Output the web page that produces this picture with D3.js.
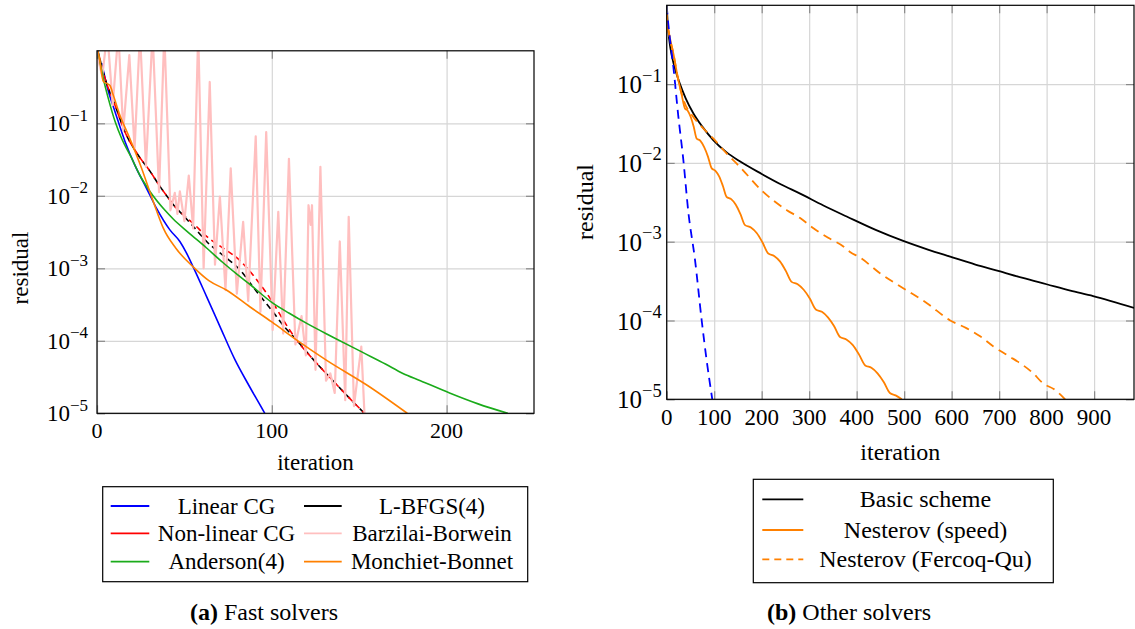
<!DOCTYPE html>
<html lang="en">
<head>
<meta charset="UTF-8">
<script src="https://cdn.jsdelivr.net/npm/d3@7"></script>
<title>Solver residuals</title>
<style>
  body { margin: 0; background: #fff; }
  .grid line { stroke: #d6d6d6; stroke-width: 1.2; }
  .grid path, .ticks path { display: none; }
  .ticks line { stroke: #8a8a8a; stroke-width: 1.2; }
  .frame { fill: none; stroke: #000; stroke-width: 1.2; }
</style>
</head>
<body>
<svg id="chart" width="1135" height="629" font-family="Liberation Serif, DejaVu Serif, serif"></svg>
<script>
// ---- data: [iteration, log10(residual)] ----
const yTickExps = [-5, -4, -3, -2, -1];
const leftXTicks = [0, 100, 200];
const rightXTicks = [0, 100, 200, 300, 400, 500, 600, 700, 800, 900];

const linearCG = [[2.7,-0.17],[6.5,-0.56],[10.3,-0.84],[16,-1.25],[21.7,-1.58],[28.4,-1.9],[34,-2.17],[41.7,-2.47],[47.4,-2.63],[51,-2.78],[55,-2.98],[62.7,-3.39],[70.3,-3.8],[78.9,-4.26],[87,-4.62],[96,-5.0]];
const lbfgs = [[0.5,0],[4.6,-0.38],[10.3,-0.75],[16,-1.12],[23.6,-1.44],[30.3,-1.66],[36,-1.87],[40.8,-2.03],[43.6,-2.12],[49.3,-2.27],[55,-2.42],[62.7,-2.63],[72,-2.82],[81.7,-3.02],[90,-3.28],[100,-3.58],[107,-3.8],[114.2,-3.99],[123.8,-4.26],[135,-4.55],[144,-4.78],[153,-5.0]];
const nonlinearCG = [[0.5,0],[4.6,-0.38],[10.3,-0.75],[16,-1.12],[23.6,-1.44],[30.3,-1.66],[36,-1.87],[40.8,-2.03],[43.6,-2.12],[49.3,-2.26],[55,-2.38],[62.7,-2.56],[72,-2.72],[81.7,-2.89],[87.4,-3.04],[93,-3.21],[100,-3.45],[106.5,-3.71],[114.2,-3.99],[123.8,-4.26],[135,-4.55],[144,-4.78],[153,-5.0]];
const barzilai = [[0,-0.05],[3,-0.35],[5.9,0.25],[9,-0.75],[12.2,0.25],[15,-1.1],[18.5,-0.06],[21.5,-1.35],[24.6,0.25],[28,-1.6],[31.8,0.25],[35.5,-1.95],[38.5,0.25],[42,-2.2],[44.5,-1.96],[46,-2.25],[47.4,-1.94],[50,-2.35],[52.5,-1.72],[55,-2.45],[57.9,0.25],[61,-3.0],[64.5,-0.43],[67.5,-2.95],[70.3,-2.01],[73.5,-3.3],[76.5,-1.62],[80,-3.35],[83.6,-2.36],[86.5,-3.45],[90.8,-1.18],[93.5,-3.6],[96.8,-1.12],[100.5,-3.85],[103.7,-2.22],[106.5,-3.9],[109.8,-1.49],[113.5,-4.05],[117,-3.66],[119.5,-4.2],[121,-2.13],[122.3,-2.4],[123,-2.13],[125,-4.4],[127.8,-1.6],[131,-4.55],[133.5,-4.45],[136,-4.72],[138.9,-2.63],[142,-4.82],[144,-2.29],[147,-4.9],[151.2,-4.08],[153,-5.0]];
const anderson = [[1,-0.06],[3.6,-0.38],[6.5,-0.66],[10.4,-0.98],[14.1,-1.21],[19.8,-1.48],[24.6,-1.72],[30.3,-1.94],[38.9,-2.2],[43.6,-2.32],[52,-2.5],[62.7,-2.72],[72,-2.92],[80,-3.08],[87.4,-3.22],[100,-3.47],[110,-3.62],[120,-3.76],[135,-3.95],[152,-4.16],[165,-4.32],[175,-4.45],[185,-4.55],[201.7,-4.72],[218,-4.87],[235,-5.0]];
const monchiet = [[0.5,0],[1.5,-0.12],[3.6,-0.42],[5.5,-0.45],[7.4,-0.48],[9.3,-0.61],[13.1,-0.89],[17.9,-1.16],[25.5,-1.62],[30.3,-1.95],[34,-2.2],[38,-2.45],[45,-2.72],[55,-2.98],[64,-3.17],[74,-3.3],[87.4,-3.53],[100,-3.74],[114.3,-3.99],[131.4,-4.27],[155,-4.62],[177.5,-5.0]];

const basicScheme = [[0,0],[3,-0.3],[8,-0.55],[15,-0.75],[28,-1.0],[40,-1.18],[56,-1.37],[75,-1.54],[98,-1.71],[125,-1.86],[154,-1.98],[200,-2.14],[240,-2.27],[281,-2.39],[330,-2.54],[379,-2.68],[440,-2.85],[498,-2.99],[550,-3.1],[597,-3.19],[650,-3.29],[698,-3.37],[750,-3.46],[800,-3.54],[850,-3.62],[898,-3.69],[984,-3.84]];
const nesterovSpeed = [[0,-0.1],[1,-0.19],[7,-0.42],[14,-0.61],[24.5,-0.95],[31,-1.12],[38.5,-1.31],[44.6,-1.34],[50.8,-1.42],[56.9,-1.54],[63,-1.69],[71,-1.72],[78.9,-1.8],[86.9,-1.92],[94.8,-2.07],[102.6,-2.1],[110.4,-2.17],[118.2,-2.29],[126,-2.43],[135.8,-2.46],[145.5,-2.53],[155.3,-2.65],[165,-2.79],[177.3,-2.82],[189.5,-2.89],[201.8,-3.01],[214,-3.15],[226.3,-3.18],[238.5,-3.25],[250.8,-3.37],[263,-3.51],[275.8,-3.54],[288.5,-3.61],[301.3,-3.72],[314,-3.86],[326.8,-3.89],[339.5,-3.96],[352.3,-4.07],[365,-4.21],[378.3,-4.24],[391.5,-4.31],[404.8,-4.43],[418,-4.57],[431,-4.6],[444,-4.67],[457,-4.78],[470,-4.92],[482,-4.95],[495,-5.0]];
const nesterovFQ = [[0,-0.1],[1,-0.19],[7,-0.42],[14,-0.61],[24.5,-0.95],[38.5,-1.25],[52.6,-1.39],[75,-1.55],[98,-1.69],[126,-1.88],[154,-2.05],[200,-2.35],[253,-2.6],[281,-2.7],[309,-2.83],[340,-2.95],[372,-3.06],[386,-3.13],[407,-3.2],[449,-3.4],[498,-3.59],[548,-3.78],[597,-4.0],[632,-4.1],[660,-4.2],[688,-4.33],[720,-4.45],[751,-4.57],[770,-4.66],[793,-4.8],[815,-4.87],[839,-5.0]];
const linearCGRef = [[0,0],[2,-0.15],[5.6,-0.36],[14,-0.78],[24.5,-1.41],[35,-1.96],[45.5,-2.62],[59.6,-3.23],[73.7,-4.0],[84,-4.5],[96,-5.0]];

const leftLegend = [
  {label: "Linear CG", color: "#0000ff"}, {label: "L-BFGS(4)", color: "#000000"},
  {label: "Non-linear CG", color: "#ff0000"}, {label: "Barzilai-Borwein", color: "#ffbfbf"},
  {label: "Anderson(4)", color: "#1aab1a"}, {label: "Monchiet-Bonnet", color: "#ff8000"}
];
const rightLegend = [
  {label: "Basic scheme", color: "#000000"},
  {label: "Nesterov (speed)", color: "#ff8000"},
  {label: "Nesterov (Fercoq-Qu)", color: "#ff8000", dash: "7,5"}
];

const svg = d3.select("#chart");

function panel(cfg) {
  const x = d3.scaleLinear().domain(cfg.xDomain).range([cfg.left, cfg.right]);
  const y = d3.scaleLog().domain([1e-5, 1]).range([cfg.bottom, cfg.top]);
  const w = cfg.right - cfg.left, h = cfg.bottom - cfg.top;
  const yTicks = yTickExps.map(e => Math.pow(10, e));
  const g = svg.append("g");

  // grid
  g.append("g").attr("class", "grid").attr("transform", `translate(0,${cfg.bottom})`)
    .call(d3.axisBottom(x).tickValues(cfg.xTicks).tickSize(-h).tickFormat(""));
  g.append("g").attr("class", "grid").attr("transform", `translate(${cfg.left},0)`)
    .call(d3.axisLeft(y).tickValues(yTicks).tickSize(-w).tickFormat(""));

  svg.append("clipPath").attr("id", cfg.id + "-clip").append("rect")
    .attr("x", cfg.left).attr("y", cfg.top).attr("width", w).attr("height", h);

  const plots = g.append("g").attr("clip-path", `url(#${cfg.id}-clip)`);
  cfg.series.forEach(s => {
    const line = d3.line()
      .x(d => x(d[0]))
      .y(d => y(Math.pow(10, d[1])))
      .curve(s.curve || d3.curveMonotoneX);
    plots.append("path").datum(s.data)
      .attr("fill", "none")
      .attr("stroke", s.color)
      .attr("stroke-width", s.width || 1.6)
      .attr("stroke-dasharray", s.dash || null)
      .attr("stroke-dashoffset", s.offset || 0)
      .attr("stroke-linejoin", "round")
      .attr("d", line);
  });

  // inward ticks on the four sides
  [[d3.axisBottom(x).tickValues(cfg.xTicks), `translate(0,${cfg.bottom})`],
   [d3.axisTop(x).tickValues(cfg.xTicks), `translate(0,${cfg.top})`],
   [d3.axisLeft(y).tickValues(yTicks), `translate(${cfg.left},0)`],
   [d3.axisRight(y).tickValues(yTicks), `translate(${cfg.right},0)`]
  ].forEach(([ax, tr]) => {
    g.append("g").attr("class", "ticks").attr("transform", tr)
      .call(ax.tickSize(-8).tickFormat(""));
  });

  g.append("rect").attr("class", "frame")
    .attr("x", cfg.left).attr("y", cfg.top).attr("width", w).attr("height", h);

  // tick labels
  g.selectAll(".xlab").data(cfg.xTicks).join("text")
    .attr("x", d => x(d)).attr("y", cfg.bottom + cfg.xLabDy)
    .attr("text-anchor", "middle").attr("font-size", cfg.xTickFont)
    .text(d => d);

  const yl = g.selectAll(".ylab").data(yTickExps).join("text")
    .attr("x", cfg.left - cfg.yLabGap).attr("y", d => y(Math.pow(10, d)) + cfg.yLabDy)
    .attr("text-anchor", "end").attr("font-size", cfg.yTickFont);
  yl.append("tspan").text("10");
  yl.append("tspan").attr("font-size", "0.74em").attr("dy", "-0.62em")
    .text(d => "\u2212" + (-d));

  // axis titles
  g.append("text").attr("x", (cfg.left + cfg.right) / 2).attr("y", cfg.xTitleY)
    .attr("text-anchor", "middle").attr("font-size", cfg.labelFont).text("iteration");
  g.append("text").attr("transform", `translate(${cfg.yTitleX},${cfg.yTitleY}) rotate(-90)`)
    .attr("text-anchor", "middle").attr("font-size", cfg.labelFont).text("residual");
}

panel({
  id: "left", left: 97, right: 534, top: 50.8, bottom: 413.3,
  xDomain: [0, 250], xTicks: leftXTicks,
  xTickFont: 22, yTickFont: 23, labelFont: 23, xLabDy: 25, yLabGap: 9, yLabDy: 8,
  xTitleY: 470, yTitleX: 28, yTitleY: 268,
  series: [
    {data: linearCG, color: "#0000ff"},
    {data: lbfgs, color: "#000000", dash: "6,4"},
    {data: nonlinearCG, color: "#ff0000", dash: "6,4", offset: 5},
    {data: barzilai, color: "#ffbfbf", width: 2.2, curve: d3.curveLinear},
    {data: anderson, color: "#1aab1a"},
    {data: monchiet, color: "#ff8000"}
  ]
});

panel({
  id: "right", left: 666.7, right: 1134, top: 5.3, bottom: 399.3,
  xDomain: [0, 984], xTicks: rightXTicks,
  xTickFont: 23, yTickFont: 25, labelFont: 24, xLabDy: 26, yLabGap: 5, yLabDy: 9,
  xTitleY: 460, yTitleX: 593, yTitleY: 202,
  series: [
    {data: basicScheme, color: "#000000", width: 1.8},
    {data: nesterovSpeed, color: "#ff8000", width: 1.8},
    {data: nesterovFQ, color: "#ff8000", width: 1.8, dash: "9,6"},
    {data: linearCGRef, color: "#0000ff", width: 1.8, dash: "9,6"}
  ]
});

// legends
function legend(items, box, cols, rowY, lineX, textX, font) {
  const g = svg.append("g");
  g.append("rect").attr("x", box[0]).attr("y", box[1]).attr("width", box[2]).attr("height", box[3])
    .attr("fill", "#fff").attr("stroke", "#000").attr("stroke-width", 1.2);
  items.forEach((it, i) => {
    const c = i % cols, r = Math.floor(i / cols);
    g.append("line").attr("x1", lineX[c][0]).attr("x2", lineX[c][1])
      .attr("y1", rowY[r]).attr("y2", rowY[r])
      .attr("stroke", it.color).attr("stroke-width", 1.8)
      .attr("stroke-dasharray", it.dash || null);
    g.append("text").attr("x", textX[c]).attr("y", rowY[r] + 7.5)
      .attr("text-anchor", "middle").attr("font-size", font).text(it.label);
  });
}

legend(leftLegend, [102.7, 486.7, 425, 95], 2, [506, 533.3, 561.7],
  [[110.7, 149.3], [304, 341.7]], [226.5, 432], 23);
legend(rightLegend, [753.3, 479.3, 300, 103.4], 1, [499.3, 530, 559.3],
  [[762.3, 803.3]], [925.5], 24);

// captions
function caption(x, y, tag, text) {
  const t = svg.append("text").attr("x", x).attr("y", y).attr("font-size", 24);
  t.append("tspan").attr("font-weight", "bold").text(tag);
  t.append("tspan").text(" " + text);
}
caption(190, 620, "(a)", "Fast solvers");
caption(767, 620, "(b)", "Other solvers");
</script>
</body>
</html>
